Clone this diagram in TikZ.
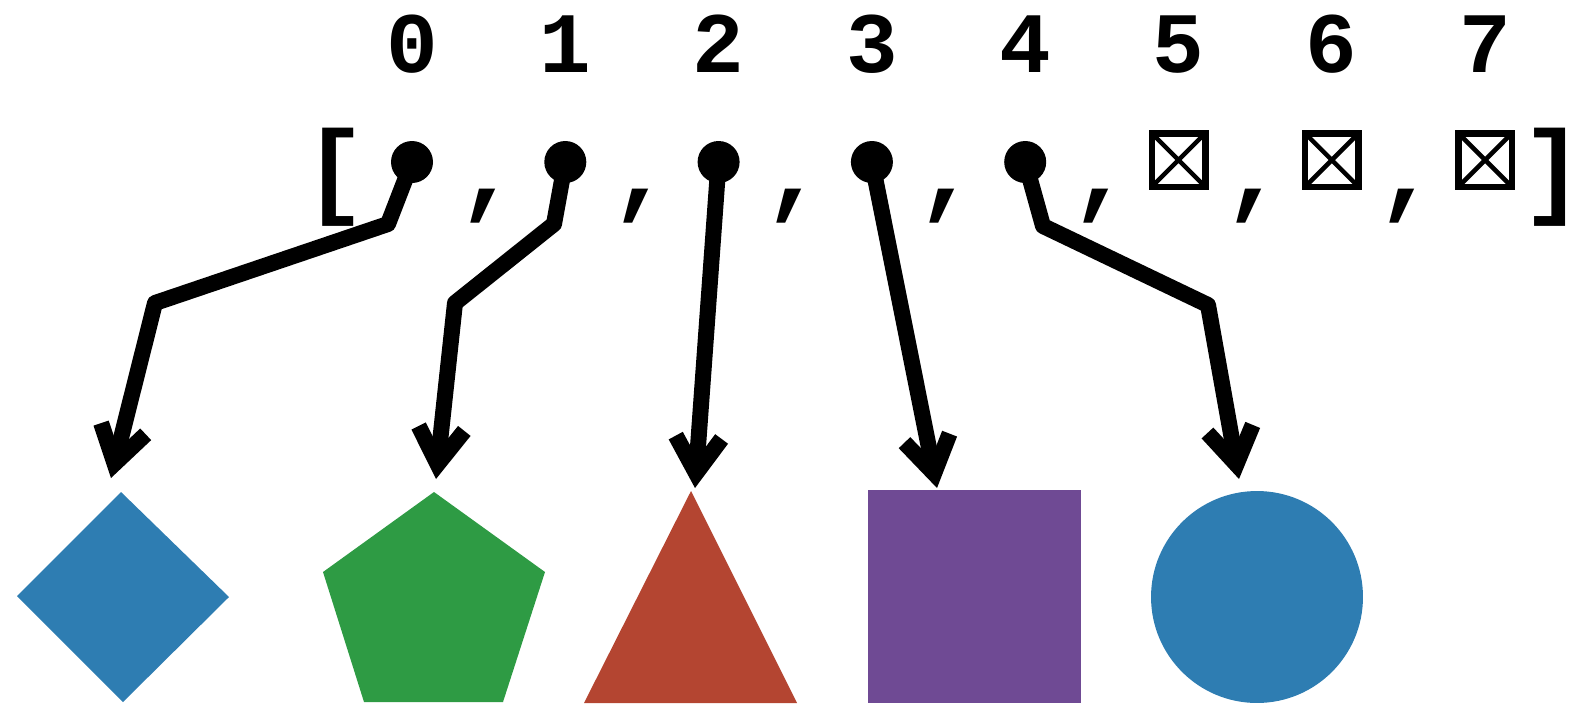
\documentclass[tikz,border=0pt]{standalone}
\usepackage{fontspec}
\setmonofont{Liberation Mono}
\usepackage{tikz}
\usetikzlibrary{arrows.meta}
\usepackage{xcolor}
\definecolor{feltblue}{RGB}{46,125,178}
\definecolor{feltgreen}{RGB}{46,155,68}
\definecolor{feltred}{RGB}{180,69,49}
\definecolor{feltpurple}{RGB}{111,74,148}
\newcommand{\slot}{153.3}
\newcommand{\prdigit}[1]{\node[digittext] (d#1) at (412+\slot*#1,72) {#1};}
\newcommand{\prsep}[1]{\node[septext] (c#1) at (412+\slot*#1+0.5*\slot,204) {,};}
\newcommand{\prdot}[1]{\node[ptrdot] (b#1) at (412+\slot*#1,162) {};}
\newcommand{\prnone}[1]{\node[nonebox] (e#1) at (412+\slot*#1,160) {};
    \draw[crossline] (e#1.north west) -- (e#1.south east) (e#1.north east) -- (e#1.south west);}
\tikzset{
    digittext/.style={anchor=base,inner sep=0pt,font=\ttfamily\bfseries\fontsize{49}{49}\selectfont},
    septext/.style={anchor=base,inner sep=0pt,font=\ttfamily\bfseries\fontsize{60}{60}\selectfont},
    ptrdot/.style={circle,fill=black,inner sep=0pt,minimum size=0.84cm},
    nonebox/.style={rectangle,draw=black,line width=0.13cm,inner sep=0pt,outer sep=0pt,minimum size=1.07cm},
    crossline/.style={line width=0.09cm},
    ptrline/.style={line width=0.32cm,line join=round,-{Straight Barb[length=0.72cm,width=0.92cm]}}
}

\begin{document}
\begin{tikzpicture}[x=0.02cm,y=-0.02cm]

		\useasboundingbox (0,0) rectangle (1585,707);

    \prdigit{0}
    \prdigit{1}
    \prdigit{2}
    \prdigit{3}
    \prdigit{4}
    \prdigit{5}
    \prdigit{6}
    \prdigit{7}

    \node[septext] (lb) at (412-0.5*\slot,204) {[};
    \node[septext] (rb) at (1553,204) {]};

    \prsep{0}
    \prsep{1}
    \prsep{2}
    \prsep{3}
    \prsep{4}
    \prsep{5}
    \prsep{6}

    \prdot{0}
    \prdot{1}
    \prdot{2}
    \prdot{3}
    \prdot{4}

    \prnone{5}
    \prnone{6}
    \prnone{7}

    \fill[feltblue] (121,492) -- (229,597) -- (123,702) -- (17,596) -- cycle;
    \fill[feltgreen] (434,492) -- (545,572) -- (503,702) -- (364,702) -- (323,572) -- cycle;
    \fill[feltred] (691,491) -- (797,703) -- (584,703) -- cycle;
    \fill[feltpurple] (868,490) rectangle (1081,703);
    \fill[feltblue] (1257,597) circle[radius=2.12cm];

    \coordinate (k0a) at (388,224);
    \coordinate (k0b) at (155,303);
    \coordinate (t0) at (111,478);
    \coordinate (k1a) at (554,224);
    \coordinate (k1b) at (455,303);
    \coordinate (t1) at (436,479);
    \coordinate (t2) at (695,488);
    \coordinate (t3) at (937,488);
    \coordinate (k4a) at (1043,226);
    \coordinate (k4b) at (1208,305);
    \coordinate (t4) at (1239,479);

    \draw[ptrline] (b0.center) -- (k0a) -- (k0b) -- (t0);
    \draw[ptrline] (b1.center) -- (k1a) -- (k1b) -- (t1);
    \draw[ptrline] (b2.center) -- (t2);
    \draw[ptrline] (b3.center) -- (t3);
    \draw[ptrline] (b4.center) -- (k4a) -- (k4b) -- (t4);
    \end{tikzpicture}
\end{document}
